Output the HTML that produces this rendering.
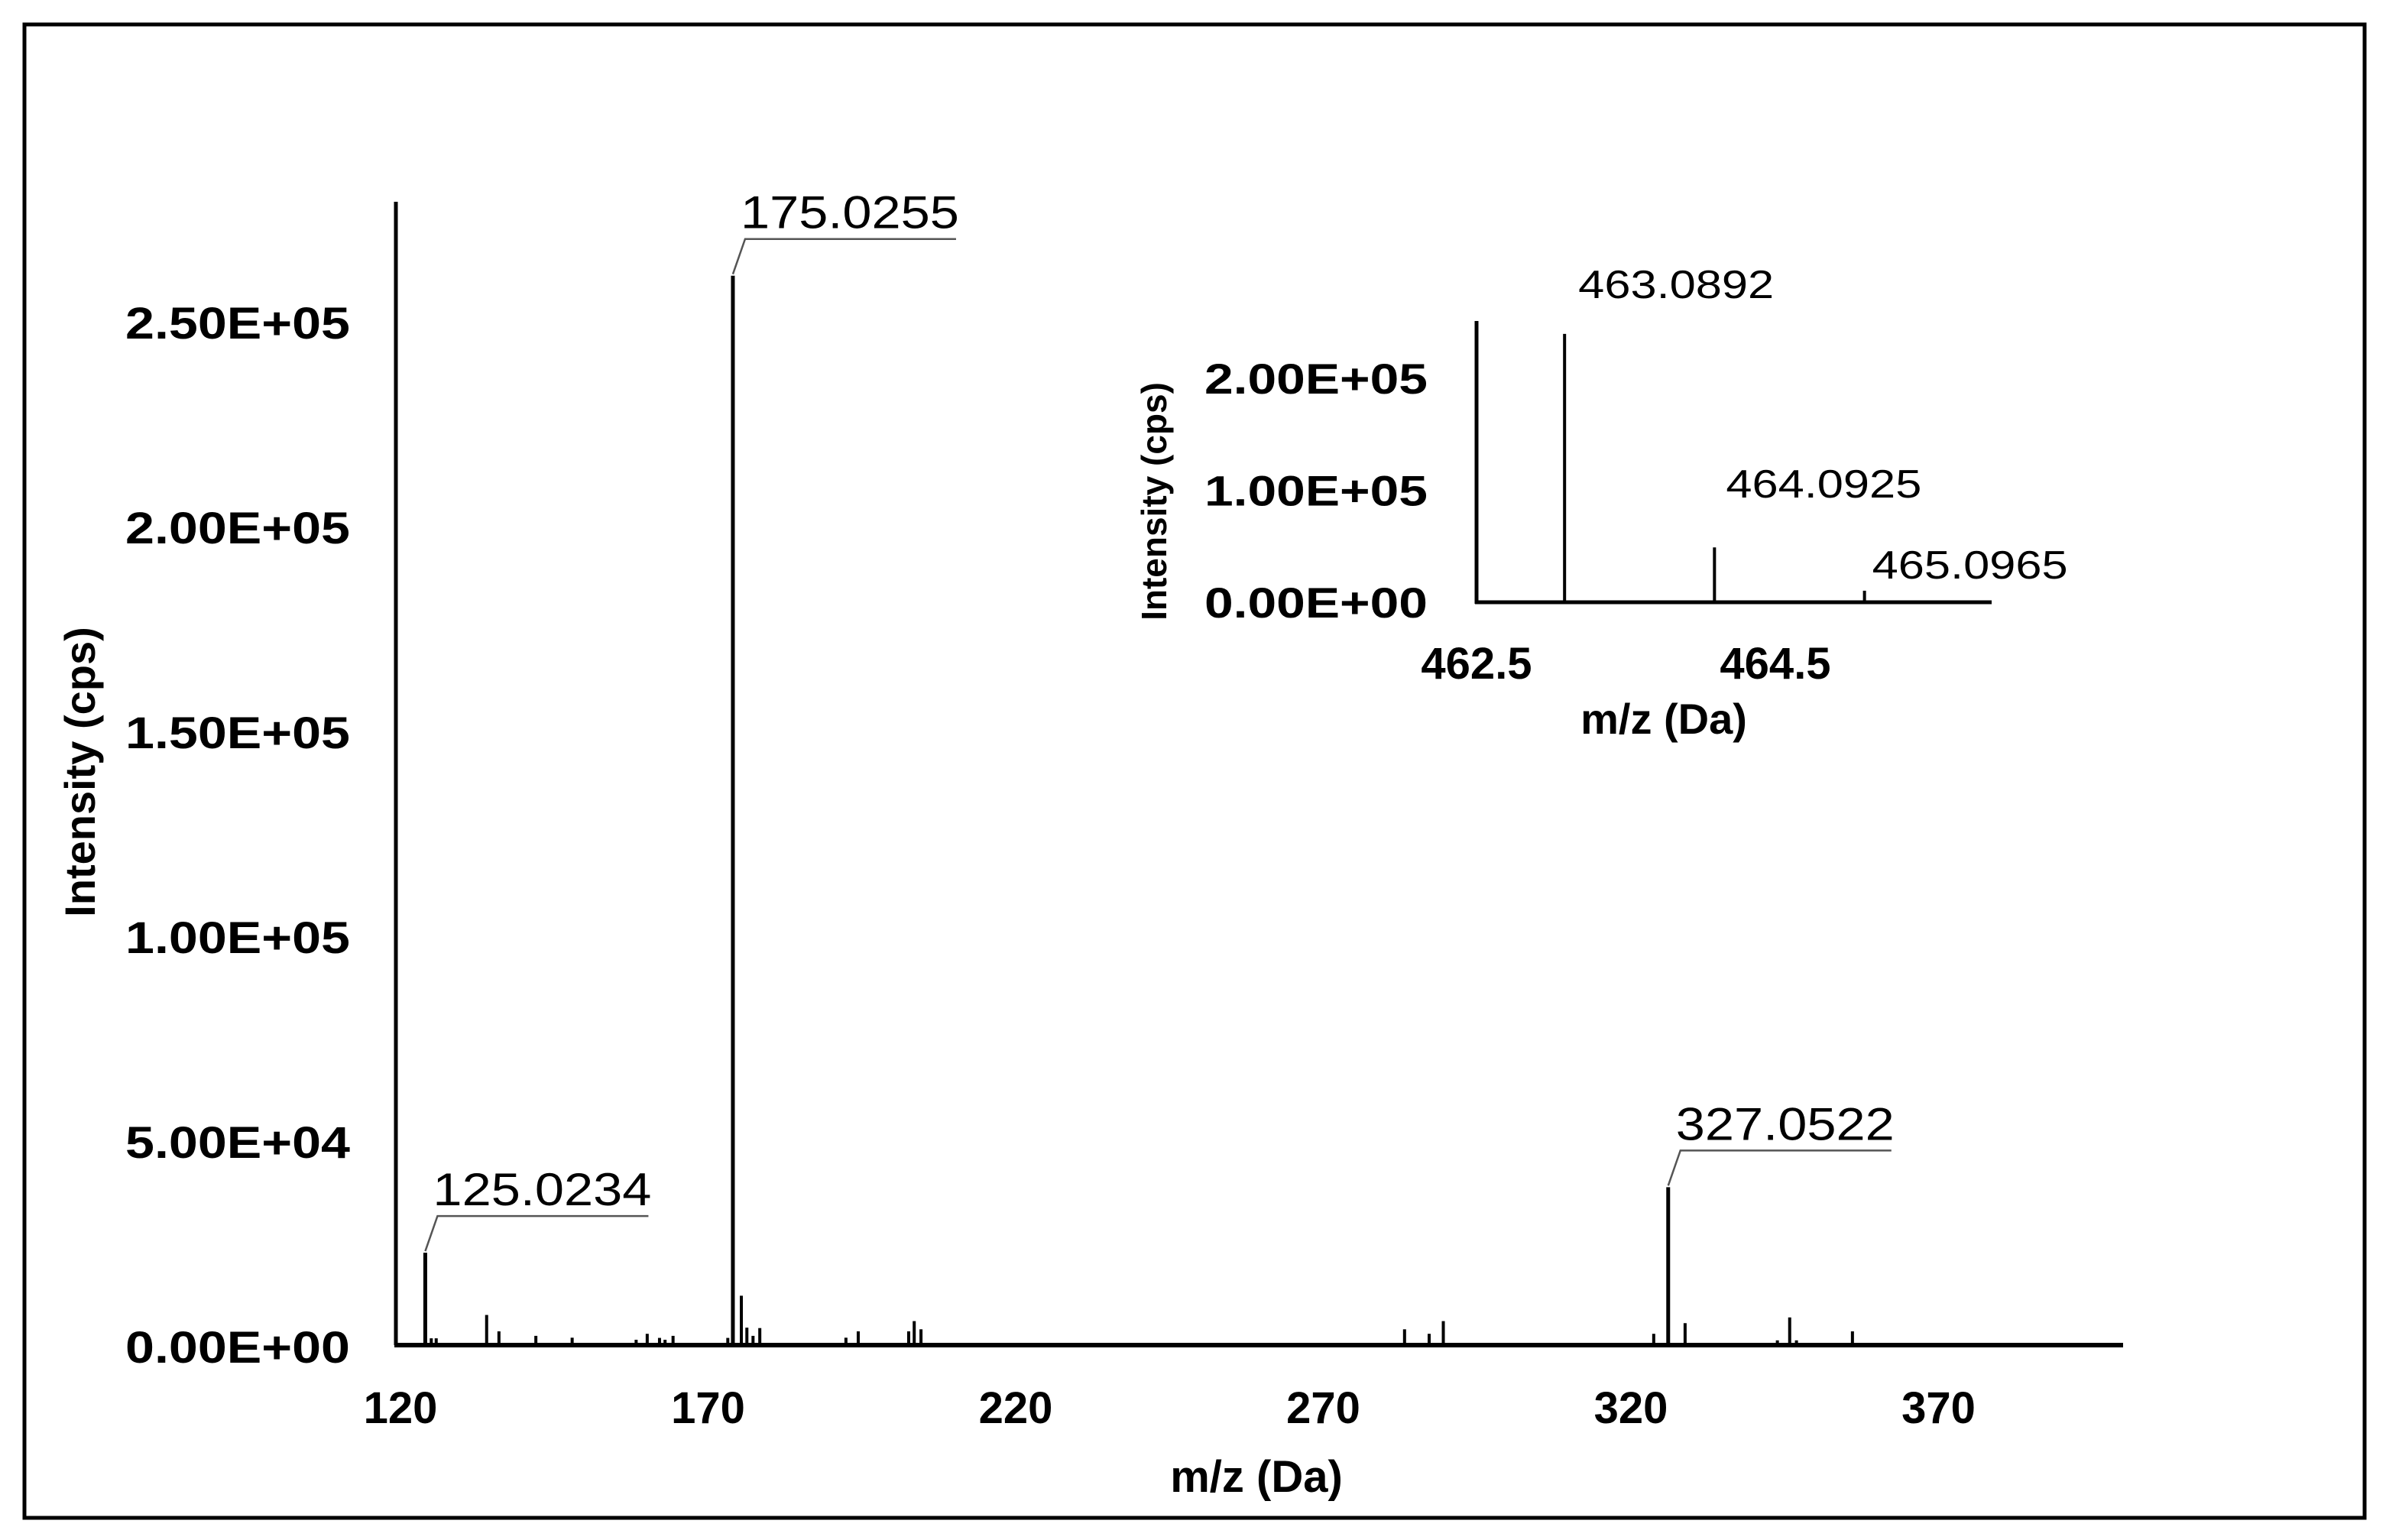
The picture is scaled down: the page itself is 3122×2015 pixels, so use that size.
<!DOCTYPE html>
<html><head><meta charset="utf-8"><style>
html,body{margin:0;padding:0;background:#fff}
svg{display:block;font-family:"Liberation Sans",Arial,sans-serif}
</style></head><body>
<svg id="chart" width="3122" height="2015" viewBox="0 0 3122 2015" xmlns="http://www.w3.org/2000/svg">
<rect x="32" y="32" width="3062" height="1954" fill="#fff" stroke="#000" stroke-width="5"/>
<g id="main"></g>
<g id="inset"></g>
</svg>
<script>
// Main spectrum data
const mainMz = [125.0234,175.0255,327.0522,126.0,126.8,135.0,137.0,143.0,148.9,159.3,161.1,163.1,164.0,165.3,174.2,176.4,177.3,178.3,179.4,193.4,195.4,203.6,204.5,205.6,284.2,288.2,290.5,324.7,329.8,344.8,346.8,347.9,357.0];
const mainIntensity = [22000,260500,38000,1100,1100,6800,2800,1700,1250,750,2200,1200,750,1700,1200,11500,3700,1700,3600,1250,2800,2800,5300,3300,3300,2200,5300,2200,4800,600,6200,600,2800];
const mainLabels = ["125.0234","175.0255","327.0522"];
const mainYTicks = [0,50000,100000,150000,200000,250000];
const mainYTickLabels = ["0.00E+00","5.00E+04","1.00E+05","1.50E+05","2.00E+05","2.50E+05"];
const mainXTicks = [120,170,220,270,320,370];
// Inset data
const insetMz = [463.0892,464.0925,465.0965];
const insetIntensity = [239700,49000,10300];
const insetLabels = ["463.0892","464.0925","465.0965"];
const insetYTicks = [0,100000,200000];
const insetYTickLabels = ["0.00E+00","1.00E+05","2.00E+05"];
const insetXTicks = [462.5,464.5];

const NS="http://www.w3.org/2000/svg";
function mk(parent,tag,attrs,text){const e=document.createElementNS(NS,tag);for(const k in attrs)e.setAttribute(k,attrs[k]);if(text!==undefined)e.textContent=text;parent.appendChild(e);return e;}

// Main axes
const mx=m=>516+(m-120)*8.05;
const my=v=>1757-v*(268/50000);
const main=document.getElementById('main');
let e;
e=mk(main,'line',{x1:518,y1:264,x2:518,y2:1760,stroke:'#000','stroke-width':5});


e=mk(main,'line',{x1:516,y1:1760,x2:2778,y2:1760,stroke:'#000','stroke-width':6});


mainYTicks.forEach((t,i)=>{
  e=mk(main,'text',{x:458,y:my(t)+26,'text-anchor':'end','font-size':58,'font-weight':'bold',textLength:294,lengthAdjust:'spacingAndGlyphs'},mainYTickLabels[i]);
  
  
});
mainXTicks.forEach((t,i)=>{
  e=mk(main,'text',{x:mx(t)+8,y:1862,'text-anchor':'middle','font-size':58,'font-weight':'bold'},String(t));
  
  
});
mainMz.forEach((m,i)=>{
  e=mk(main,'line',{x1:mx(m),y1:1758,x2:mx(m),y2:my(mainIntensity[i]),stroke:'#000','stroke-width':i<3?5:4});
  
  
});
mainLabels.forEach((lab,i)=>{
  const px=mx(mainMz[i]),py=my(mainIntensity[i]);
  const ly=py-48;
  e=mk(main,'polyline',{points:`${px},${py-2} ${px+16},${ly} ${px+292},${ly}`,fill:'none',stroke:'#555','stroke-width':2.5});
  
  
  e=mk(main,'text',{x:px+10,y:ly-14,'font-size':60,textLength:286,lengthAdjust:'spacingAndGlyphs'},lab);
  
  
});
e=mk(main,'text',{x:0,y:0,transform:'translate(124,1010) rotate(-90)','text-anchor':'middle','font-size':56,'font-weight':'bold'},'Intensity (cps)');


e=mk(main,'text',{x:1644,y:1952,'text-anchor':'middle','font-size':58,'font-weight':'bold'},'m/z (Da)');



// Inset
const ix=m=>1932+(m-462.5)*195.5;
const iy=v=>788-v*(146.5/100000);
const inset=document.getElementById('inset');
e=mk(inset,'line',{x1:1932,y1:420,x2:1932,y2:790,stroke:'#000','stroke-width':5});


e=mk(inset,'line',{x1:1930,y1:788,x2:2606,y2:788,stroke:'#000','stroke-width':5});


insetYTicks.forEach((t,i)=>{
  e=mk(inset,'text',{x:1868,y:iy(t)+20,'text-anchor':'end','font-size':56,'font-weight':'bold',textLength:292,lengthAdjust:'spacingAndGlyphs'},insetYTickLabels[i]);
  
  
});
insetXTicks.forEach((t,i)=>{
  e=mk(inset,'text',{x:ix(t),y:888,'text-anchor':'middle','font-size':58,'font-weight':'bold'},String(t));
  
  
});
const ilabOff=[[146,-47],[143,-65],[138,-16]];
insetMz.forEach((m,i)=>{
  e=mk(inset,'line',{x1:ix(m),y1:788,x2:ix(m),y2:iy(insetIntensity[i]),stroke:'#000','stroke-width':4});
  
  
  e=mk(inset,'text',{x:ix(m)+ilabOff[i][0],y:iy(insetIntensity[i])+ilabOff[i][1],'text-anchor':'middle','font-size':52,textLength:256,lengthAdjust:'spacingAndGlyphs'},insetLabels[i]);
  
  
});
e=mk(inset,'text',{x:0,y:0,transform:'translate(1526,656) rotate(-90)','text-anchor':'middle','font-size':46,'font-weight':'bold'},'Intensity (cps)');


e=mk(inset,'text',{x:2177,y:960,'text-anchor':'middle','font-size':56,'font-weight':'bold'},'m/z (Da)');


</script>
</body></html>
